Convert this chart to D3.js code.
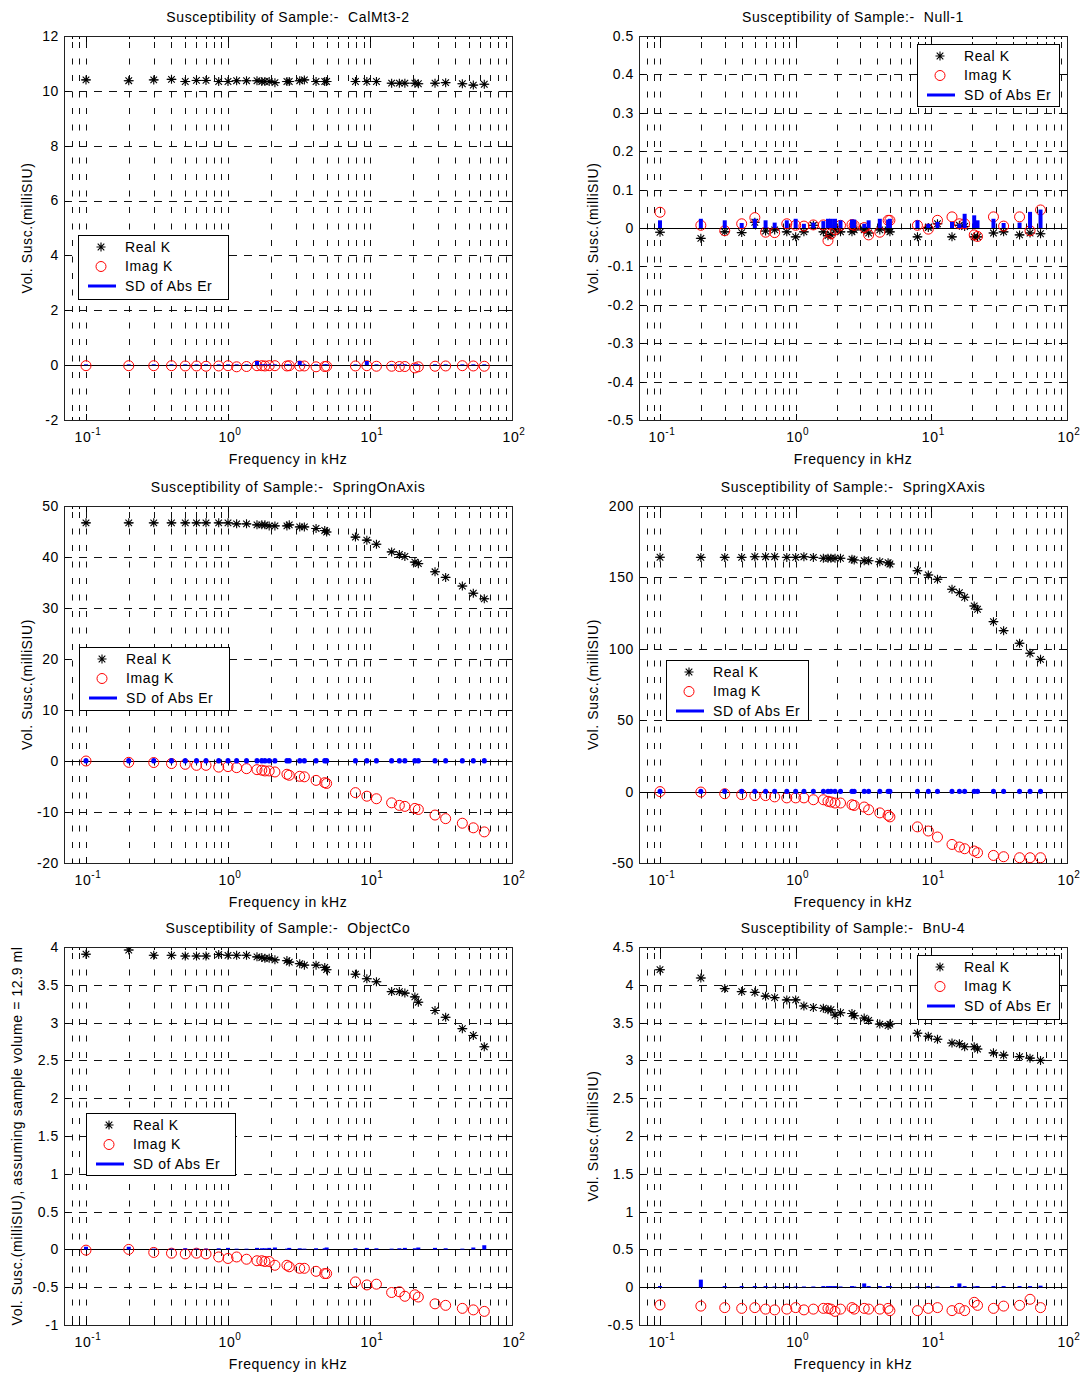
<!DOCTYPE html>
<html>
<head>
<meta charset="utf-8">
<script src="https://cdn.jsdelivr.net/npm/d3@7"></script>
<style>
body { margin: 0; background: #fff; }
text { font-family: "Liberation Sans", Arial, sans-serif; font-size: 14px; fill: #000; letter-spacing: 0.6px; white-space: pre; }
</style>
</head>
<body>
<svg id="fig" width="1080" height="1374"></svg>
<script>
// measurement frequencies (kHz), same for all samples
var freq = [0.1, 0.2, 0.3, 0.4, 0.5, 0.6, 0.7, 0.86, 1.0, 1.15, 1.35, 1.6, 1.73, 1.82, 1.95, 2.14, 2.6, 2.7,
  3.2, 3.45, 4.17, 4.8, 4.95, 7.9, 9.5, 11.1, 14.2, 16.1, 17.6, 20.7, 21.9, 28.7, 34.1, 44.7, 53.4, 63.8];

var calReal = [10.4, 10.37, 10.4, 10.42, 10.34, 10.38, 10.38, 10.34, 10.34, 10.37, 10.37, 10.37, 10.34, 10.34, 10.34, 10.3, 10.34, 10.34,
  10.37, 10.4, 10.34, 10.34, 10.34, 10.34, 10.34, 10.34, 10.28, 10.28, 10.28, 10.28, 10.26, 10.28, 10.3, 10.26, 10.21, 10.24];
var calImag = [-0.02, -0.02, -0.02, -0.02, -0.03, -0.03, -0.04, -0.03, -0.02, -0.06, -0.05, -0.02, -0.02, -0.03, -0.02, -0.02, -0.03, -0.02,
  -0.03, -0.03, -0.06, -0.05, -0.04, -0.03, -0.02, -0.04, -0.04, -0.05, -0.05, -0.1, -0.06, -0.04, -0.03, -0.02, -0.03, -0.04];
var calSd = [0.03, 0.03, 0.03, 0.03, 0.03, 0.03, 0.03, 0.03, 0.03, 0.03, 0.03, 0.15, 0.03, 0.03, 0.03, 0.03, 0.03, 0.03,
  0.15, 0.03, 0.03, 0.03, 0.03, 0.03, 0.15, 0.03, 0.03, 0.03, 0.03, 0.03, 0.03, 0.03, 0.03, 0.03, 0.03, 0.03];

var nullReal = [-0.011, -0.027, -0.01, -0.012, 0.015, -0.008, -0.005, -0.01, -0.023, -0.01, 0.007, -0.01, -0.02, -0.018, -0.005, -0.01, -0.01, -0.005,
  -0.005, -0.013, -0.005, -0.005, -0.01, -0.023, 0.001, 0.011, -0.023, 0.007, 0.004, -0.023, -0.023, -0.013, -0.01, -0.018, -0.013, -0.015];
var nullImag = [0.041, 0.007, -0.007, 0.011, 0.027, -0.011, -0.012, 0.011, 0.007, 0.005, 0.008, 0.008, -0.033, -0.015, -0.004, 0.007, 0.009, 0.007,
  0.001, -0.018, -0.011, 0.02, 0.02, 0.007, -0.003, 0.02, 0.029, 0.011, 0.011, -0.018, -0.022, 0.029, 0.005, 0.029, -0.007, 0.047];
var nullSd = [0.02, 0.024, 0.02, 0.013, 0.024, 0.02, 0.014, 0.02, 0.024, 0.011, 0.014, 0.018, 0.024, 0.024, 0.024, 0.02, 0.022, 0.022,
  0.011, 0.02, 0.024, 0.022, 0.024, 0.02, 0.011, 0.016, 0.016, 0.011, 0.037, 0.033, 0.02, 0.024, 0.013, 0.014, 0.042, 0.048];

var springOnReal = [46.7, 46.7, 46.7, 46.7, 46.7, 46.7, 46.7, 46.7, 46.7, 46.5, 46.5, 46.3, 46.3, 46.3, 46.1, 46.1, 46.1, 46.3,
  45.9, 45.9, 45.6, 45.2, 44.9, 43.9, 43.3, 42.5, 41.0, 40.5, 40.1, 39.0, 38.7, 37.1, 36.0, 34.3, 32.9, 31.8];
var springOnImag = [0, -0.26, -0.3, -0.5, -0.65, -0.85, -0.85, -1.2, -1.1, -1.3, -1.5, -1.7, -1.8, -1.95, -1.95, -2.15, -2.6, -2.8,
  -3.0, -3.1, -3.8, -4.25, -4.4, -6.2, -6.9, -7.4, -8.2, -8.7, -8.9, -9.3, -9.5, -10.6, -11.3, -12.2, -13.1, -13.9];
var springOnSd = [0.1, 0.1, 0.1, 0.1, 0.1, 0.1, 0.1, 0.1, 0.1, 0.1, 0.1, 0.1, 0.1, 0.1, 0.1, 0.1, 0.1, 0.1,
  0.1, 0.1, 0.1, 0.1, 0.1, 0.1, 0.1, 0.1, 0.1, 0.1, 0.1, 0.1, 0.1, 0.1, 0.1, 0.1, 0.1, 0.1];

var springXReal = [164.1, 164, 164, 164, 164.5, 164.5, 164.5, 164, 164, 164.5, 164, 163.4, 163.4, 163.4, 163.4, 163.4, 162.7, 162.2,
  161.7, 161.7, 161, 160.3, 159.4, 154.7, 151.7, 148.7, 141.7, 139.3, 136.1, 130, 127.7, 119, 112.7, 103.9, 96.9, 92.6];
var springXImag = [0, -0.3, -1.5, -2.1, -2.8, -2.8, -3.7, -4.4, -4.4, -4.4, -5.7, -5.7, -6.8, -7.3, -8, -8, -9.2, -9.7,
  -10.8, -12.7, -14.9, -16.6, -17.7, -24.7, -27.6, -31.8, -37, -38.8, -40, -41.6, -42.8, -44.7, -45.6, -46.3, -46.3, -46.3];
var springXSd = [0.3, 0.3, 0.3, 0.3, 0.3, 0.3, 0.3, 0.3, 0.3, 0.3, 0.3, 0.3, 0.3, 0.3, 0.3, 0.3, 0.3, 0.3,
  0.3, 0.3, 0.3, 0.3, 0.3, 0.3, 0.3, 0.3, 0.3, 0.3, 0.3, 0.3, 0.3, 0.3, 0.3, 0.3, 0.3, 0.3];

var objReal = [3.905, 3.96, 3.89, 3.89, 3.88, 3.88, 3.88, 3.9, 3.89, 3.89, 3.89, 3.87, 3.86, 3.85, 3.85, 3.83, 3.82, 3.8,
  3.78, 3.76, 3.76, 3.73, 3.7, 3.64, 3.58, 3.54, 3.41, 3.41, 3.39, 3.34, 3.27, 3.16, 3.07, 2.92, 2.83, 2.68];
var objImag = [-0.01, 0, -0.04, -0.05, -0.06, -0.05, -0.06, -0.1, -0.12, -0.1, -0.13, -0.15, -0.15, -0.16, -0.16, -0.21, -0.21, -0.23,
  -0.25, -0.25, -0.29, -0.32, -0.32, -0.43, -0.47, -0.46, -0.57, -0.56, -0.62, -0.6, -0.63, -0.72, -0.74, -0.78, -0.8, -0.82];
var objSd = [0.035, 0.035, 0.01, 0.01, 0.015, 0.01, 0.01, 0.015, 0.02, 0.01, 0.01, 0.02, 0.015, 0.015, 0.02, 0.025, 0.01, 0.02,
  0.015, 0.01, 0.015, 0.015, 0.025, 0.015, 0.02, 0.015, 0.01, 0.015, 0.02, 0.015, 0.025, 0.02, 0.015, 0.01, 0.025, 0.055];

var bnuReal = [4.2, 4.09, 3.95, 3.91, 3.9, 3.85, 3.83, 3.8, 3.8, 3.72, 3.7, 3.69, 3.67, 3.67, 3.6, 3.63, 3.62, 3.59,
  3.56, 3.53, 3.48, 3.46, 3.48, 3.36, 3.32, 3.28, 3.23, 3.22, 3.18, 3.18, 3.15, 3.1, 3.07, 3.05, 3.03, 3.0];
var bnuImag = [-0.235, -0.25, -0.27, -0.28, -0.27, -0.29, -0.3, -0.29, -0.27, -0.3, -0.29, -0.28, -0.28, -0.29, -0.32, -0.29, -0.27, -0.29,
  -0.28, -0.29, -0.29, -0.28, -0.31, -0.31, -0.28, -0.27, -0.31, -0.28, -0.31, -0.2, -0.24, -0.28, -0.25, -0.24, -0.16, -0.27];
var bnuSd = [0.015, 0.1, 0.015, 0.015, 0.015, 0.015, 0.01, 0.015, 0.01, 0.01, 0.01, 0.015, 0.015, 0.015, 0.015, 0.01, 0.015, 0.01,
  0.05, 0.015, 0.015, 0.015, 0.015, 0.01, 0.015, 0.01, 0.015, 0.05, 0.015, 0.01, 0.015, 0.015, 0.015, 0.015, 0.015, 0.02];

// axis ticks
var xDomain = [0.07, 100];
var xTickLabels = [0.1, 1, 10, 100];
var calTicks = [-2, 0, 2, 4, 6, 8, 10, 12];
var nullTicks = [-0.5, -0.4, -0.3, -0.2, -0.1, 0, 0.1, 0.2, 0.3, 0.4, 0.5];
var springOnTicks = [-20, -10, 0, 10, 20, 30, 40, 50];
var springXTicks = [-50, 0, 50, 100, 150, 200];
var objTicks = [-1, -0.5, 0, 0.5, 1, 1.5, 2, 2.5, 3, 3.5, 4];
var bnuTicks = [-0.5, 0, 0.5, 1, 1.5, 2, 2.5, 3, 3.5, 4, 4.5];

var legendLabels = ["Real K", "Imag K", "SD of Abs Er"];
var yTitle = "Vol. Susc.(milliSIU)";

// panel layout (box = left, top, right, bottom)
var panels = [
  {name: "CalMt3-2", real: calReal, imag: calImag, sd: calSd, ticks: calTicks,
   box: [64, 36, 512, 420], leg: [78, 235, 150, 64], ylab: yTitle, ylabX: 27, cap: "butt"},
  {name: "Null-1", real: nullReal, imag: nullImag, sd: nullSd, ticks: nullTicks,
   box: [639, 36, 1067, 420], leg: [917, 44, 142, 62], ylab: yTitle, ylabX: 593, cap: "butt"},
  {name: "SpringOnAxis", real: springOnReal, imag: springOnImag, sd: springOnSd, ticks: springOnTicks,
   box: [64, 506, 512, 863], leg: [79, 647, 150, 63], ylab: yTitle, ylabX: 27, cap: "round"},
  {name: "SpringXAxis", real: springXReal, imag: springXImag, sd: springXSd, ticks: springXTicks,
   box: [639, 506, 1067, 863], leg: [666, 660, 142, 60], ylab: yTitle, ylabX: 593, cap: "round"},
  {name: "ObjectCo", real: objReal, imag: objImag, sd: objSd, ticks: objTicks,
   box: [64, 947, 512, 1325], leg: [86, 1113, 149, 62], ylab: yTitle + ", assuming sample volume = 12.9 ml", ylabX: 17, cap: "butt"},
  {name: "BnU-4", real: bnuReal, imag: bnuImag, sd: bnuSd, ticks: bnuTicks,
   box: [639, 947, 1067, 1325], leg: [917, 955, 142, 64], ylab: yTitle, ylabX: 593, cap: "butt"}
];

// log grid positions 0.08, 0.09, 0.1 ... 90, 100
var xGrid = [];
[-2, -1, 0, 1].forEach(function(e) {
  for (var k = 1; k <= 9; k++) {
    var v = +(k * Math.pow(10, e)).toPrecision(3);
    if (v > xDomain[0] && v < xDomain[1]) xGrid.push(v);
  }
});

var starPath = "M-4.5,0H4.5M0,-4.5V4.5M-3.3,-3.3L3.3,3.3M-3.3,3.3L3.3,-3.3";
var svg = d3.select("#fig");

function crisp(v) { return Math.round(v) + 0.5; }

panels.forEach(function(p) {
  var L = p.box[0], T = p.box[1], R = p.box[2], B = p.box[3];
  var x = d3.scaleLog().domain(xDomain).range([L, R]);
  var y = d3.scaleLinear().domain([p.ticks[0], p.ticks[p.ticks.length - 1]]).range([B, T]);
  var g = svg.append("g");

  // grid
  g.append("g").selectAll("line").data(xGrid).enter().append("line")
      .attr("x1", function(d) { return crisp(x(d)); })
      .attr("x2", function(d) { return crisp(x(d)); })
      .attr("y1", T).attr("y2", B)
      .attr("stroke", "#111").attr("stroke-width", 1)
      .attr("stroke-dasharray", "6,10.5").attr("stroke-dashoffset", 10.5);
  g.append("g").selectAll("line").data(p.ticks.slice(1, -1)).enter().append("line")
      .attr("x1", L).attr("x2", R)
      .attr("y1", function(d) { return crisp(y(d)); })
      .attr("y2", function(d) { return crisp(y(d)); })
      .attr("stroke", "#111").attr("stroke-width", 1)
      .attr("stroke-dasharray", "8,7");

  // zero line
  g.append("line")
      .attr("x1", L).attr("x2", R)
      .attr("y1", crisp(y(0))).attr("y2", crisp(y(0)))
      .attr("stroke", "#000").attr("stroke-width", 1);

  // ticks, inside on all four sides
  var tk = g.append("g").attr("stroke", "#000").attr("stroke-width", 1);
  xGrid.forEach(function(d) {
    var xx = crisp(x(d)), len = xTickLabels.indexOf(d) >= 0 ? 6 : 3;
    tk.append("line").attr("x1", xx).attr("x2", xx).attr("y1", B).attr("y2", B - len);
    tk.append("line").attr("x1", xx).attr("x2", xx).attr("y1", T).attr("y2", T + len);
  });
  p.ticks.forEach(function(d) {
    var yy = crisp(y(d));
    tk.append("line").attr("x1", L).attr("x2", L + 5).attr("y1", yy).attr("y2", yy);
    tk.append("line").attr("x1", R).attr("x2", R - 5).attr("y1", yy).attr("y2", yy);
  });

  // box
  g.append("rect")
      .attr("x", L + 0.5).attr("y", T + 0.5)
      .attr("width", R - L).attr("height", B - T)
      .attr("fill", "none").attr("stroke", "#222").attr("stroke-width", 1);

  // y tick labels
  g.append("g").selectAll("text").data(p.ticks).enter().append("text")
      .attr("x", L - 5).attr("y", function(d) { return y(d); })
      .attr("dy", "0.35em").attr("text-anchor", "end")
      .text(function(d) { return String(d); });

  // x tick labels 10^n
  g.append("g").selectAll("text").data(xTickLabels).enter().append("text")
      .attr("x", function(d) { return x(d) + 2; }).attr("y", B + 22)
      .attr("text-anchor", "middle")
      .each(function(d) {
        var t = d3.select(this);
        t.append("tspan").text("10");
        t.append("tspan").attr("dy", -7).style("font-size", "10px").text(String(Math.round(Math.log10(d))));
      });

  // titles
  g.append("text").attr("x", (L + R) / 2).attr("y", T - 14).attr("text-anchor", "middle")
      .text("Susceptibility of Sample:-  " + p.name);
  g.append("text").attr("x", (L + R) / 2).attr("y", B + 44).attr("text-anchor", "middle")
      .text("Frequency in kHz");
  g.append("text")
      .attr("transform", "translate(" + p.ylabX + "," + (T + B) / 2 + ") rotate(-90)")
      .attr("text-anchor", "middle").attr("dy", "0.35em")
      .text(p.ylab);

  // data
  var pts = freq.map(function(f, i) { return {f: f, re: p.real[i], im: p.imag[i], sd: p.sd[i]}; });
  var clip = "clip" + p.name.replace(/[^A-Za-z0-9]/g, "");
  svg.append("clipPath").attr("id", clip).append("rect")
      .attr("x", L).attr("y", T).attr("width", R - L).attr("height", B - T);
  var dg = g.append("g").attr("clip-path", "url(#" + clip + ")");

  // real K: stars with small error-bar caps
  dg.append("g").selectAll("line").data(pts).enter().append("line")
      .attr("x1", function(d) { return x(d.f) - 5; })
      .attr("x2", function(d) { return x(d.f) + 5; })
      .attr("y1", function(d) { return y(d.re); })
      .attr("y2", function(d) { return y(d.re); })
      .attr("stroke", "#333").attr("stroke-width", 1);
  dg.append("g").selectAll("path").data(pts).enter().append("path")
      .attr("d", starPath)
      .attr("transform", function(d) { return "translate(" + x(d.f) + "," + y(d.re) + ")"; })
      .attr("fill", "none").attr("stroke", "#000").attr("stroke-width", 1.1);

  // imag K: red circles
  dg.append("g").selectAll("circle").data(pts).enter().append("circle")
      .attr("cx", function(d) { return x(d.f); })
      .attr("cy", function(d) { return y(d.im); })
      .attr("r", 5)
      .attr("fill", "none").attr("stroke", "#ff0000").attr("stroke-width", 1);

  // SD of abs error: blue bars from zero
  dg.append("g").selectAll("line").data(pts).enter().append("line")
      .attr("x1", function(d) { return x(d.f); })
      .attr("x2", function(d) { return x(d.f); })
      .attr("y1", y(0))
      .attr("y2", function(d) { return y(d.sd); })
      .attr("stroke", "#0000ff").attr("stroke-width", p.cap === "round" ? 5 : 4).attr("stroke-linecap", p.cap);

  // legend
  var lx = p.leg[0], ly = p.leg[1];
  var lg = g.append("g");
  lg.append("rect").attr("x", lx + 0.5).attr("y", ly + 0.5)
      .attr("width", p.leg[2]).attr("height", p.leg[3])
      .attr("fill", "#fff").attr("stroke", "#000").attr("stroke-width", 1);
  legendLabels.forEach(function(lbl, i) {
    var yy = ly + 12 + i * 19.5;
    if (i === 0) {
      lg.append("path").attr("d", starPath).attr("transform", "translate(" + (lx + 23) + "," + yy + ")")
          .attr("fill", "none").attr("stroke", "#000").attr("stroke-width", 1.1);
    } else if (i === 1) {
      lg.append("circle").attr("cx", lx + 23).attr("cy", yy).attr("r", 5)
          .attr("fill", "none").attr("stroke", "#ff0000");
    } else {
      lg.append("line").attr("x1", lx + 10).attr("x2", lx + 38).attr("y1", yy).attr("y2", yy)
          .attr("stroke", "#0000ff").attr("stroke-width", 3);
    }
    lg.append("text").attr("x", lx + 47).attr("y", yy).attr("dy", "0.35em").text(lbl);
  });
});
</script>
</body>
</html>
